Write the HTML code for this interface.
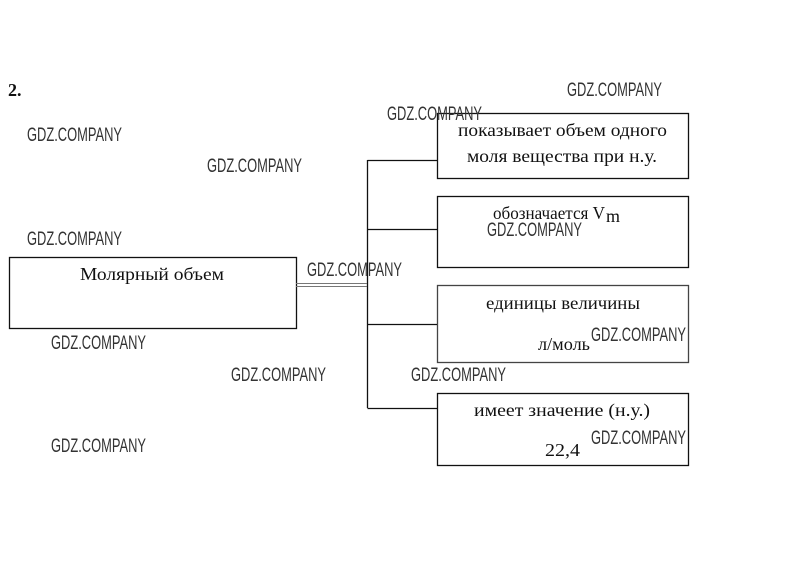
<!DOCTYPE html>
<html><head><meta charset="utf-8"><style>
html,body{margin:0;padding:0;background:#fff;}
svg{display:block;}
.s{font-family:"Liberation Serif",serif;font-size:18px;fill:#111;}
.w{font-family:"Liberation Sans",sans-serif;font-size:19px;fill:#333;}
</style></head><body>
<svg width="812" height="575" viewBox="0 0 812 575" xmlns="http://www.w3.org/2000/svg">
<rect width="812" height="575" fill="#fff"/>
<g fill="none" stroke="#111" stroke-width="1.3">
<rect x="9.5" y="257.5" width="287" height="71"/>
<rect x="437.5" y="113.5" width="251" height="65"/>
<rect x="437.5" y="196.5" width="251" height="71"/>
<rect x="437.5" y="285.5" width="251" height="77" stroke="#444"/>
<rect x="437.5" y="393.5" width="251" height="72"/>
<path d="M367.5 160V408"/>
<path d="M367.5 160.5H437M367.5 229.5H437M367.5 324.5H437M367.5 408.5H437"/>
<path d="M296 283.5H367M296 286.5H367" stroke="#777" stroke-width="1"/>
</g>
<text x="8" y="96" class="s" style="font-weight:bold">2.</text>
<text x="80" y="280" class="s" fill="#555" textLength="144" lengthAdjust="spacingAndGlyphs">Молярный объем</text>
<text x="458" y="136" class="s" textLength="209" lengthAdjust="spacingAndGlyphs">показывает объем одного</text>
<text x="467" y="162" class="s" textLength="190" lengthAdjust="spacingAndGlyphs">моля вещества при н.у.</text>
<text x="493" y="219" class="s" textLength="112" lengthAdjust="spacingAndGlyphs">обозначается V</text>
<text x="606" y="222" class="s" font-size="13">m</text>
<text x="486" y="309" class="s" fill="#666" textLength="154" lengthAdjust="spacingAndGlyphs">единицы величины</text>
<text x="538" y="350" class="s" fill="#333" textLength="52" lengthAdjust="spacingAndGlyphs">л/моль</text>
<text x="474" y="416" class="s" textLength="176" lengthAdjust="spacingAndGlyphs">имеет значение (н.у.)</text>
<text x="545" y="456" class="s" textLength="35" lengthAdjust="spacingAndGlyphs">22,4</text>
<g class="w">
<text x="27" y="141" textLength="95" lengthAdjust="spacingAndGlyphs">GDZ.COMPANY</text>
<text x="207" y="172" textLength="95" lengthAdjust="spacingAndGlyphs">GDZ.COMPANY</text>
<text x="387" y="120" textLength="95" lengthAdjust="spacingAndGlyphs">GDZ.COMPANY</text>
<text x="567" y="96" textLength="95" lengthAdjust="spacingAndGlyphs">GDZ.COMPANY</text>
<text x="27" y="245" textLength="95" lengthAdjust="spacingAndGlyphs">GDZ.COMPANY</text>
<text x="307" y="276" textLength="95" lengthAdjust="spacingAndGlyphs">GDZ.COMPANY</text>
<text x="487" y="236" textLength="95" lengthAdjust="spacingAndGlyphs">GDZ.COMPANY</text>
<text x="51" y="349" textLength="95" lengthAdjust="spacingAndGlyphs">GDZ.COMPANY</text>
<text x="231" y="381" textLength="95" lengthAdjust="spacingAndGlyphs">GDZ.COMPANY</text>
<text x="411" y="381" textLength="95" lengthAdjust="spacingAndGlyphs">GDZ.COMPANY</text>
<text x="591" y="341" textLength="95" lengthAdjust="spacingAndGlyphs">GDZ.COMPANY</text>
<text x="51" y="452" textLength="95" lengthAdjust="spacingAndGlyphs">GDZ.COMPANY</text>
<text x="591" y="444" textLength="95" lengthAdjust="spacingAndGlyphs">GDZ.COMPANY</text>
</g>
</svg>
</body></html>
